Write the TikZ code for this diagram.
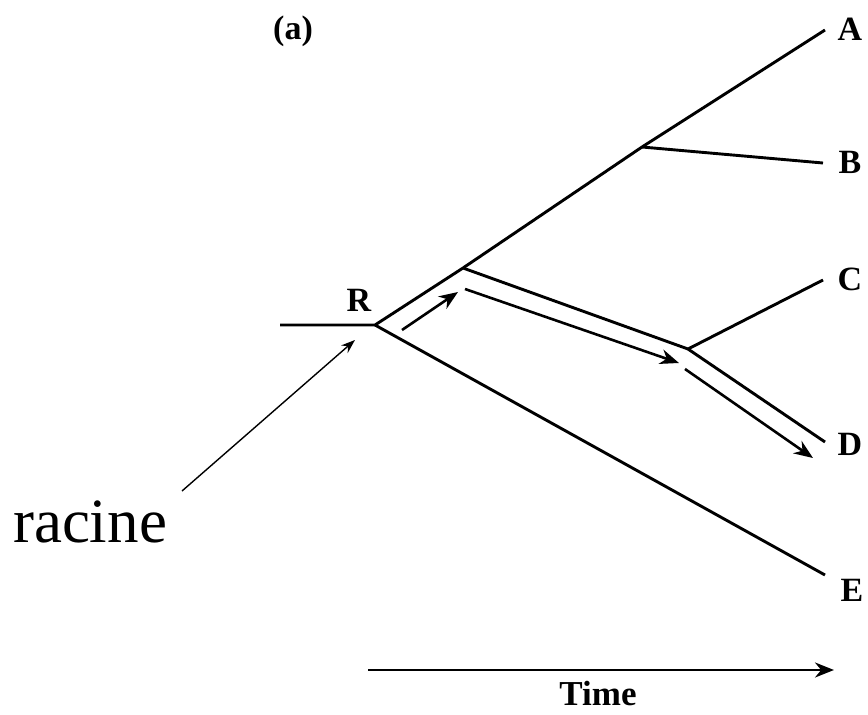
\documentclass[tikz,border=0pt]{standalone}
\usepackage{fontspec}
\setmainfont{Liberation Serif}
\usetikzlibrary{arrows.meta}

\begin{document}
\begin{tikzpicture}[x=1pt,y=-1pt,
  lab/.style={font=\fontsize{34}{34}\selectfont\bfseries,inner sep=0pt},
  branch/.style={line width=2.9pt},
  flow/.style={line width=2.6pt,-{Stealth[length=19pt,width=15pt]}},
  pointer/.style={line width=1.4pt,-{Stealth[length=14pt,width=10pt]}}]
\useasboundingbox (0,0) rectangle (868,715);
% tree points
\coordinate (stem) at (280,325);
\coordinate (R) at (375,325);
\coordinate (P1) at (463,268);
\coordinate (PB) at (642,147);
\coordinate (P2) at (688,349);
\coordinate (endA) at (825,30);
\coordinate (endB) at (823,163);
\coordinate (endC) at (823,280);
\coordinate (endD) at (825,442);
\coordinate (endE) at (825,575);
% labels
\node[lab] (labA) at (850,29) {A};
\node[lab] (labB) at (850,162) {B};
\node[lab] (labC) at (850,279) {C};
\node[lab] (labD) at (850,444) {D};
\node[lab] (labE) at (852,590) {E};
\node[lab] (labR) at (359,300) {R};
\node[lab] (labPanel) at (293,31) {(a)};
\node[lab,font=\fontsize{35}{35}\selectfont\bfseries] (labTime) at (598,694) {Time};
\node[font=\fontsize{63}{63}\selectfont,inner sep=0pt] (racine) at (90,522) {racine};
% tree
\draw[branch] (stem) -- (R) -- (P1) -- (PB) -- (endA);
\draw[branch] (PB) -- (endB);
\draw[branch] (P1) -- (P2) -- (endD);
\draw[branch] (P2) -- (endC);
\draw[branch] (R) -- (endE);
% path followed
\coordinate (f1a) at (402,330);
\coordinate (f1b) at (458,292);
\coordinate (f2a) at (465,289);
\coordinate (f2b) at (679,363);
\coordinate (f3a) at (685,369);
\coordinate (f3b) at (813,458);
\draw[flow] (f1a) -- (f1b);
\draw[flow] (f2a) -- (f2b);
\draw[flow] (f3a) -- (f3b);
% root pointer
\coordinate (racinetip) at (182,491);
\coordinate (rootmark) at (355,340);
\draw[pointer] (racinetip) -- (rootmark);
% time axis
\coordinate (t0) at (368,670);
\coordinate (t1) at (834,670);
\draw[flow] (t0) -- (t1);
\end{tikzpicture}
\end{document}
